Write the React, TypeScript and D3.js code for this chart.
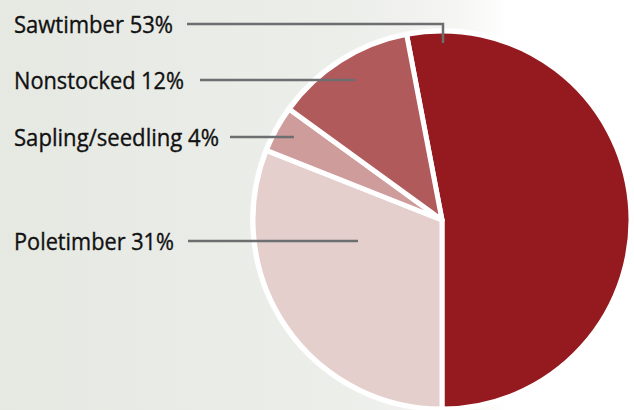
import React, { useRef, useEffect } from "react";
import * as d3 from "d3";

// 森林の林分サイズ区分
const categories = ["Sawtimber", "Nonstocked", "Sapling/seedling", "Poletimber"];
const shares = [53, 12, 4, 31];
const sliceColors = ["#951a1f", "#b05a5c", "#cf9c9c", "#e4cfcd"];
const labelTexts = ["Sawtimber 53%", "Nonstocked 12%", "Sapling/seedling 4%", "Poletimber 31%"];

const Chart: React.FC = () => {
  const svgRef = useRef<SVGSVGElement>(null);

  useEffect(() => {
    if (!svgRef.current) return;

    const width = 634;
    const height = 410;
    const cx = 442;
    const cy = 220;
    const radius = 189;

    const svg = d3
      .select(svgRef.current)
      .attr("width", width)
      .attr("height", height);

    svg.selectAll("*").remove();

    // 背景(写真の代わりに薄いグラデーション)
    const defs = svg.append("defs");
    const grad = defs
      .append("linearGradient")
      .attr("id", "bg")
      .attr("x1", "0")
      .attr("x2", "1")
      .attr("y1", "0")
      .attr("y2", "0");
    grad.append("stop").attr("offset", "0").attr("stop-color", "#e6e8e2");
    grad.append("stop").attr("offset", "0.55").attr("stop-color", "#eceeea");
    grad.append("stop").attr("offset", "0.72").attr("stop-color", "#f5f5f3");
    grad.append("stop").attr("offset", "0.8").attr("stop-color", "#ffffff");

    svg
      .append("rect")
      .attr("width", width)
      .attr("height", height)
      .attr("fill", "url(#bg)");

    const data = categories.map((c, i) => ({ name: c, value: shares[i], color: sliceColors[i], label: labelTexts[i] }));

    // 円グラフ: Sawtimberは6時の位置で終わる
    const total = d3.sum(shares);
    const offset = Math.PI - (shares[0] / total) * 2 * Math.PI; // Sawtimberの開始角

    const pie = d3
      .pie<(typeof data)[number]>()
      .value((d) => d.value)
      .sort(null)
      .startAngle(offset)
      .endAngle(offset + 2 * Math.PI);

    // 時計回りの並び順
    const ordered = [data[0], data[3], data[2], data[1]];
    const arcs = pie(ordered);

    const arc = d3.arc<d3.PieArcDatum<(typeof data)[number]>>().innerRadius(0).outerRadius(radius);

    const g = svg.append("g").attr("transform", `translate(${cx},${cy})`);

    g.append("circle")
      .attr("r", radius + 3)
      .attr("fill", "#ffffff")
      .attr("opacity", 0.7);

    g.selectAll("path")
      .data(arcs)
      .enter()
      .append("path")
      .attr("d", arc)
      .attr("fill", (d) => d.data.color)
      .attr("stroke", "#ffffff")
      .attr("stroke-width", 5)
      .attr("stroke-linejoin", "round");

    // ラベルと引き出し線
    const labelY = [24, 80, 137, 241];
    const lineStart = [187, 200, 230, 188];
    const leaderRadius = [177, 162, 169, 0];

    const angleOf = (name: string) => {
      const a = arcs.find((d) => d.data.name === name)!;
      return (a.startAngle + a.endAngle) / 2;
    };

    data.forEach((d, i) => {
      svg
        .append("text")
        .attr("x", 14)
        .attr("y", labelY[i] + 9)
        .attr("font-family", "'Liberation Sans Narrow', 'Open Sans', sans-serif")
        .attr("font-size", 23)
        .attr("fill", "#111111")
        .attr("stroke", "#111111")
        .attr("stroke-width", 0.35)
        .attr("textLength", [159, 170, 205, 160][i])
        .attr("lengthAdjust", "spacingAndGlyphs")
        .text(d.label);

      let path: string;
      if (i === 0) {
        // 上に折れ曲がる引き出し線
        const endY = cy - leaderRadius[i];
        path = `M${lineStart[i]},${labelY[i]}H${cx + 1}V${endY}`;
      } else if (leaderRadius[i] > 0) {
        const a = angleOf(d.name);
        const ex = cx + leaderRadius[i] * Math.sin(a);
        path = `M${lineStart[i]},${labelY[i]}H${ex}`;
      } else {
        path = `M${lineStart[i]},${labelY[i]}H${cx - 84}`;
      }
      svg
        .append("path")
        .attr("d", path)
        .attr("fill", "none")
        .attr("stroke", "#6d6e70")
        .attr("stroke-width", 2.5);
    });
  }, []);

  return <svg ref={svgRef} style={{ position: "absolute", left: 0, top: 0, display: "block" }}></svg>;
};

export default function App() {
  return <Chart />;
}
